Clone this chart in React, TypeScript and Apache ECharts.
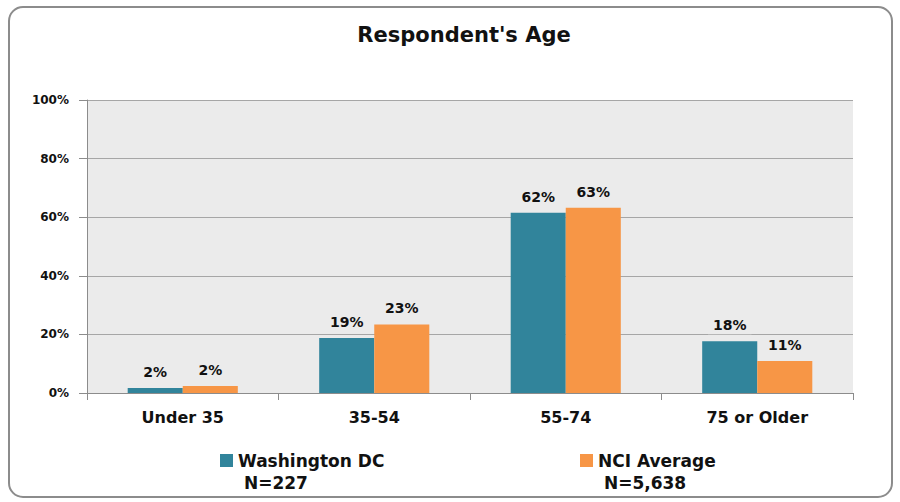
import React, { useEffect, useRef } from "react";
import * as echarts from "echarts";

const title = "Respondent's Age";
const categories = ["Under 35", "35-54", "55-74", "75 or Older"];
const seriesNames = ["Washington DC", "NCI Average"];
const seriesN = ["N=227", "N=5,638"];
const washingtonDC = [1.7, 18.8, 61.5, 17.7];
const nciAverage = [2.4, 23.4, 63.2, 10.9];
const colors = ["#31849b", "#f79646"];
const yTicks = { min: 0, max: 100, interval: 20 };

const FONT = "DejaVu Sans";

export default function App() {
  const ref = useRef<HTMLDivElement>(null);
  useEffect(() => {
    if (!ref.current) return;
    const chart = echarts.init(ref.current, undefined, { renderer: "svg" });
    const values = [washingtonDC, nciAverage];
    const legendLeft = [220, 580];
    chart.setOption({
      animation: false,
      backgroundColor: "#ffffff",
      title: {
        text: title,
        left: 459,
        textAlign: "center",
        top: 19,
        textStyle: { fontFamily: FONT, fontWeight: "bold", fontSize: 21, color: "#111" },
      },
      graphic: [
        {
          type: "rect",
          shape: { x: 9, y: 7, width: 883, height: 490, r: 14 },
          style: { fill: "none", stroke: "#8c8c8c", lineWidth: 2 },
          silent: true,
          z: -1,
        },
      ],
      legend: seriesNames.map((name, i) => ({
        data: [name],
        left: legendLeft[i],
        top: 452,
        padding: 0,
        itemWidth: 13,
        itemHeight: 13,
        itemGap: 0,
        icon: "rect",
        selectedMode: false,
        formatter: (n: string) => `{a|${n}}\n{b| ${seriesN[i]}}`,
        textStyle: {
          fontFamily: FONT,
          fontWeight: "bold",
          fontSize: 17,
          color: "#111",
          padding: [22, 0, 0, 0],
          rich: {
            a: { fontFamily: FONT, fontWeight: "bold", fontSize: 17, color: "#111", lineHeight: 22 },
            b: { fontFamily: FONT, fontWeight: "bold", fontSize: 17, color: "#111", lineHeight: 22 },
          },
        },
      })),
      grid: {
        left: 87,
        right: 47,
        top: 100,
        bottom: 109,
        show: true,
        backgroundColor: "#ebebeb",
        borderWidth: 0,
      },
      xAxis: {
        type: "category",
        data: categories,
        axisLine: { show: true, lineStyle: { color: "#8c8c8c", width: 1 } },
        axisTick: { show: true, length: 7, alignWithLabel: false, lineStyle: { color: "#8c8c8c" } },
        axisLabel: {
          fontFamily: FONT,
          fontWeight: "bold",
          fontSize: 16,
          color: "#111",
          margin: 16,
        },
      },
      yAxis: {
        type: "value",
        min: yTicks.min,
        max: yTicks.max,
        interval: yTicks.interval,
        axisLine: { show: true, lineStyle: { color: "#8c8c8c", width: 1 } },
        axisTick: { show: true, length: 8, lineStyle: { color: "#8c8c8c" } },
        splitLine: { show: true, lineStyle: { color: "#a6a6a6", width: 1 } },
        axisLabel: {
          formatter: "{value}%",
          fontFamily: FONT,
          fontWeight: "bold",
          fontSize: 12,
          color: "#111",
          margin: 18,
        },
      },
      series: seriesNames.map((name, i) => ({
        name,
        type: "bar",
        data: values[i],
        barGap: "0%",
        barCategoryGap: "42.5%",
        itemStyle: { color: colors[i] },
        label: {
          show: true,
          position: "top",
          distance: 7,
          formatter: (p: any) => `${Math.round(p.value)}%`,
          fontFamily: FONT,
          fontWeight: "bold",
          fontSize: 14,
          color: "#111",
          backgroundColor: "#ebebeb",
          padding: [2, 5],
        },
      })),
    });
    return () => chart.dispose();
  }, []);
  return (
    <div
      ref={ref}
      style={{ position: "fixed", left: 0, top: 0, width: 900, height: 502 }}
    />
  );
}
